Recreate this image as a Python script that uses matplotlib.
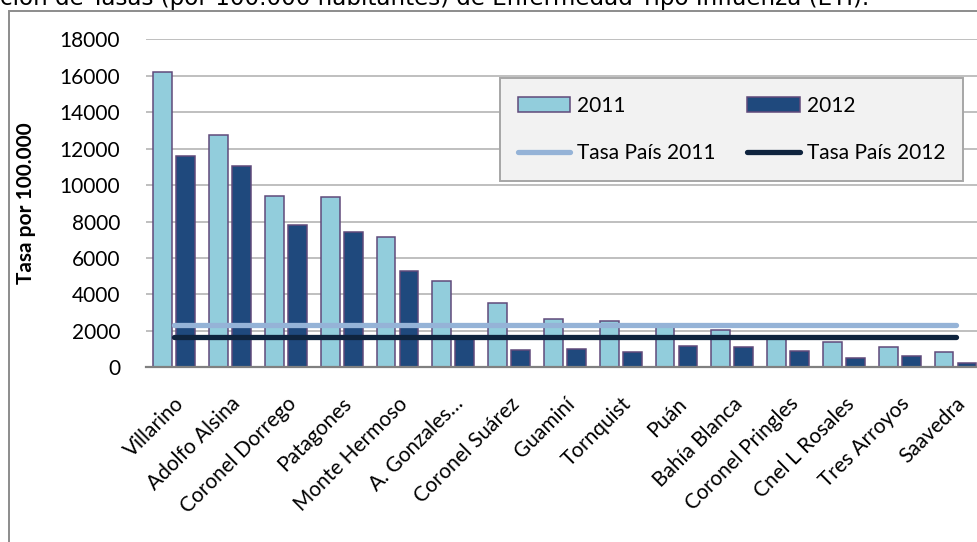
import matplotlib
matplotlib.use("Agg")
import matplotlib.pyplot as plt
import numpy as np
from matplotlib.patches import Rectangle, Patch
from matplotlib.lines import Line2D

# Partidos (districts) and incidence rates per 100.000 inhabitants
partidos = ["Villarino", "Adolfo Alsina", "Coronel Dorrego", "Patagones",
            "Monte Hermoso", "A. Gonzales…", "Coronel Suárez", "Guaminí",
            "Tornquist", "Puán", "Bahía Blanca", "Coronel Pringles",
            "Cnel L Rosales", "Tres Arroyos", "Saavedra"]
tasa_2011 = [16220, 12750, 9400, 9360, 7170, 4750, 3545, 2635, 2540, 2350,
             2050, 1650, 1370, 1100, 860]
tasa_2012 = [11590, 11045, 7810, 7440, 5270, 1700, 950, 1005, 840, 1170,
             1100, 910, 530, 620, 250]
tasa_pais_2011 = 2320
tasa_pais_2012 = 1650
y_ticks = [0, 2000, 4000, 6000, 8000, 10000, 12000, 14000, 16000, 18000]

W, H = 977, 542
plt.rcParams['font.family'] = ['Lato', 'DejaVu Sans']
fs = 15

fig = plt.figure(figsize=(W / 100, H / 100), dpi=100)

# Chart-area frame
fig.patches.append(Rectangle((9 / W, -0.1), 1.5, (1 - 11 / H) + 0.1,
                             transform=fig.transFigure, fill=False,
                             edgecolor='#8c8c8c', linewidth=1.4))

# Title line
fig.text(0.0, 1 - 5 / H,
         "ción de Tasas (por 100.000 habitantes) de Enfermedad Tipo Influenza (ETI).",
         ha='left', va='baseline', fontsize=16.6, family='DejaVu Sans',
         color='black')

ax = fig.add_axes([146.4 / W, (H - 367.3) / H, 837 / W, 328.05 / H])
x = np.arange(len(partidos))
bw = 0.34
off = 0.206
edge = '#604A7B'
ax.bar(x - off, tasa_2011, bw, color='#92CDDC', edgecolor=edge,
       linewidth=1.1, zorder=3, label='2011')
ax.bar(x + off, tasa_2012, bw, color='#1F497D', edgecolor=edge,
       linewidth=1.1, zorder=3, label='2012')
ax.plot([x[0], x[-1]], [tasa_pais_2011] * 2, color='#95B3D7', lw=3.8,
        solid_capstyle='round', zorder=4)
ax.plot([x[0], x[-1]], [tasa_pais_2012] * 2, color='#0F243E', lw=3.8,
        solid_capstyle='round', zorder=4)

ax.set_xlim(-0.5, len(partidos) - 0.5)
ax.set_ylim(0, 18000)
ax.set_yticks(y_ticks)
ax.set_yticklabels([str(v) for v in y_ticks], fontsize=fs)
ax.yaxis.grid(True, color='#BFBFBF', linewidth=1.4, zorder=0)
ax.set_axisbelow(True)
ax.tick_params(axis='y', length=0, pad=19)
ax.tick_params(axis='x', length=0, pad=19)
for s in ['left', 'right', 'top']:
    ax.spines[s].set_visible(False)
ax.spines['bottom'].set_color('#808080')
ax.spines['bottom'].set_linewidth(1.6)
ax.spines['bottom'].set_zorder(5)

ax.set_xticks(x)
ax.set_xticklabels(partidos, rotation=45, ha='right', va='top',
                   rotation_mode='anchor', fontsize=fs)
ax.set_ylabel("Tasa por 100.000", fontsize=fs, fontweight='bold')
ax.yaxis.set_label_coords(-(146.4 - 36) / 837, 0.5)

handles = [
    Patch(facecolor='#92CDDC', edgecolor=edge, linewidth=1.1),
    Line2D([], [], color='#95B3D7', lw=3.8, solid_capstyle='round'),
    Patch(facecolor='#1F497D', edgecolor=edge, linewidth=1.1),
    Line2D([], [], color='#0F243E', lw=3.8, solid_capstyle='round'),
]
labels = ['2011', 'Tasa País 2011', '2012', 'Tasa País 2012']
leg = fig.legend(handles, labels, ncol=2, loc='upper left',
                 bbox_to_anchor=(500 / W, 1 - 175 / H, 463 / W, 97 / H),
                 mode='expand', fontsize=fs, frameon=True, fancybox=False,
                 facecolor='#F2F2F2', edgecolor='#A6A6A6', framealpha=1,
                 handlelength=2.5, handletextpad=0.35, labelspacing=1.33,
                 borderpad=0.85, borderaxespad=0, columnspacing=1.0)
leg.get_frame().set_linewidth(1.4)

fig.savefig("out.png", dpi=100)
